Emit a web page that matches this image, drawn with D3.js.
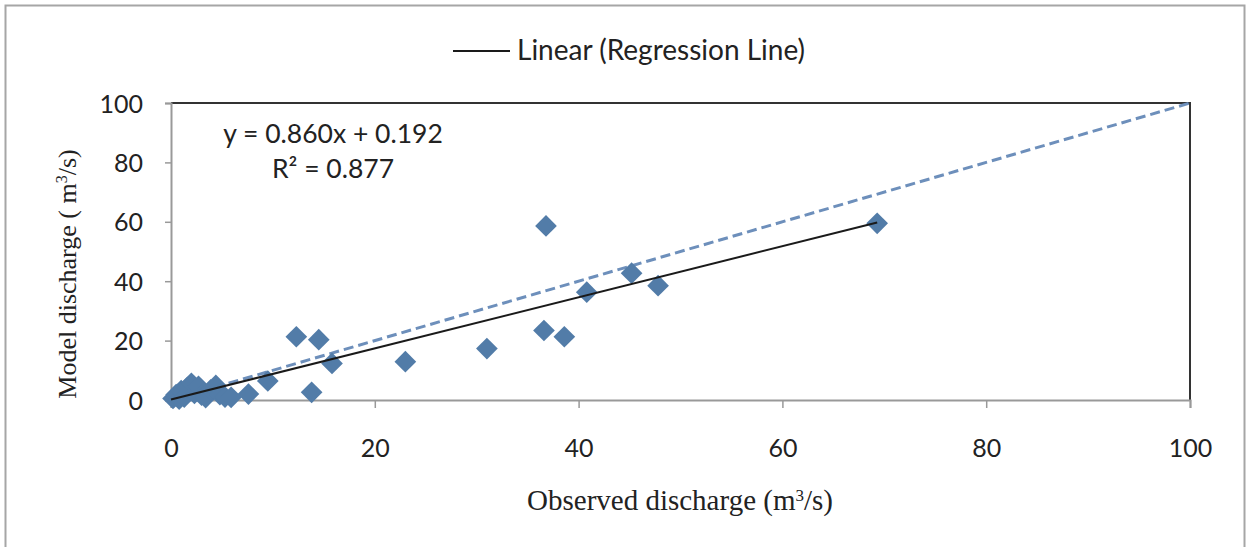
<!DOCTYPE html>
<html>
<head>
<meta charset="utf-8">
<script src="https://cdn.jsdelivr.net/npm/d3@7"></script>
<style>
    body { margin: 0; background: #fff; }
    #chart { width: 1255px; height: 547px; }
</style>
</head>
<body>
<div id="chart"></div>
<script>
// observed vs modelled discharge (m3/s)
var observed = [0.2, 0.5, 0.8, 1.0, 1.3, 1.6, 2.0, 2.3, 2.7, 3.0, 3.4, 3.9, 4.4, 4.8, 5.3, 5.9, 7.6, 9.5, 12.3, 13.8, 14.5, 15.8, 23.0, 31.0, 36.6, 36.8, 38.6, 40.8, 45.2, 47.8, 69.3];
var modelled = [0.5, 1.8, 0.3, 3.2, 1.0, 4.2, 5.6, 2.2, 4.6, 1.6, 0.8, 3.4, 4.9, 1.8, 1.0, 0.9, 2.0, 6.4, 21.3, 2.6, 20.3, 12.3, 12.9, 17.3, 23.4, 58.6, 21.3, 36.3, 42.7, 38.5, 59.5];
var xTicks = [0, 20, 40, 60, 80, 100];
var yTicks = [0, 20, 40, 60, 80, 100];
var slope = 0.860, intercept = 0.192, r2 = 0.877;

var width = 1255, height = 547;
var svg = d3.select("#chart").append("svg")
    .attr("width", width).attr("height", height);

// outer frame
svg.append("rect")
    .attr("x", 5.5).attr("y", 5.5)
    .attr("width", 1239).attr("height", 545)
    .attr("fill", "#fff")
    .attr("stroke", "#a6a6a6").attr("stroke-width", 2);

var x = d3.scaleLinear().domain([0, 100]).range([171, 1190]);
var y = d3.scaleLinear().domain([0, 100]).range([400, 103]);

var tickFont = "Lato, 'Open Sans', sans-serif";

// top and right border of the plot area
svg.append("path")
    .attr("d", "M" + x(0) + "," + y(100) + "H" + x(100) + "V" + y(0))
    .attr("fill", "none").attr("stroke", "#333").attr("stroke-width", 2);

var xAxis = svg.append("g")
    .attr("transform", "translate(0," + y(0) + ")")
    .call(d3.axisBottom(x).tickValues(xTicks).tickSize(8).tickPadding(31));
var yAxis = svg.append("g")
    .attr("transform", "translate(" + x(0) + ",0)")
    .call(d3.axisLeft(y).tickValues(yTicks).tickSize(6).tickPadding(22));

[xAxis, yAxis].forEach(function (a) {
    a.select(".domain").attr("stroke", "#999").attr("stroke-width", 2);
    a.selectAll(".tick line").attr("stroke", "#999").attr("stroke-width", 1.5);
    a.selectAll(".tick text")
        .attr("fill", "#222")
        .style("font-family", tickFont)
        .style("font-size", "25px");
});
yAxis.selectAll(".tick text").attr("dy", "0.36em");

// 1:1 line
svg.append("line")
    .attr("x1", x(0)).attr("y1", y(0))
    .attr("x2", x(100)).attr("y2", y(100))
    .attr("stroke", "#6d8fbb").attr("stroke-width", 3)
    .attr("stroke-dasharray", "10,5");

// points
var pts = d3.zip(observed, modelled);
svg.selectAll(".pt")
    .data(pts).enter()
    .append("path")
    .attr("class", "pt")
    .attr("d", d3.symbol().type(d3.symbolDiamond2).size(300))
    .attr("transform", function (d) { return "translate(" + x(d[0]) + "," + y(d[1]) + ")"; })
    .attr("fill", "#527ca8");

// regression line over the observed range
var xMax = d3.max(observed);
svg.append("line")
    .attr("x1", x(0)).attr("y1", y(intercept))
    .attr("x2", x(xMax)).attr("y2", y(slope * xMax + intercept))
    .attr("stroke", "#1a1a1a").attr("stroke-width", 2);

// equation
svg.append("text")
    .attr("x", 333).attr("y", 143)
    .attr("text-anchor", "middle")
    .style("font-family", tickFont).style("font-size", "26.5px")
    .attr("fill", "#222")
    .text("y = " + slope.toFixed(3) + "x + " + intercept.toFixed(3));
svg.append("text")
    .attr("x", 333).attr("y", 178)
    .attr("text-anchor", "middle")
    .style("font-family", tickFont).style("font-size", "26.5px")
    .attr("fill", "#222")
    .text("R² = " + r2.toFixed(3));

// legend
svg.append("line")
    .attr("x1", 453).attr("x2", 510)
    .attr("y1", 51).attr("y2", 51)
    .attr("stroke", "#1a1a1a").attr("stroke-width", 2);
svg.append("text")
    .attr("x", 517).attr("y", 60)
    .style("font-family", tickFont).style("font-size", "28px")
    .attr("fill", "#222")
    .text("Linear (Regression Line)");

// axis titles
var xt = svg.append("text")
    .attr("x", 680).attr("y", 510)
    .attr("text-anchor", "middle")
    .style("font-family", "'Liberation Serif', serif").style("font-size", "29px")
    .attr("fill", "#222");
xt.append("tspan").text("Observed discharge (m");
xt.append("tspan").attr("dy", -9).style("font-size", "17px").text("3");
xt.append("tspan").attr("dy", 9).text("/s)");

var yt = svg.append("text")
    .attr("transform", "translate(76,274) rotate(-90)")
    .attr("text-anchor", "middle")
    .style("font-family", "'Liberation Serif', serif").style("font-size", "26px")
    .attr("fill", "#222");
yt.append("tspan").text("Model discharge ( m");
yt.append("tspan").attr("dy", -9).style("font-size", "16px").text("3");
yt.append("tspan").attr("dy", 9).text("/s)");
</script>
</body>
</html>
